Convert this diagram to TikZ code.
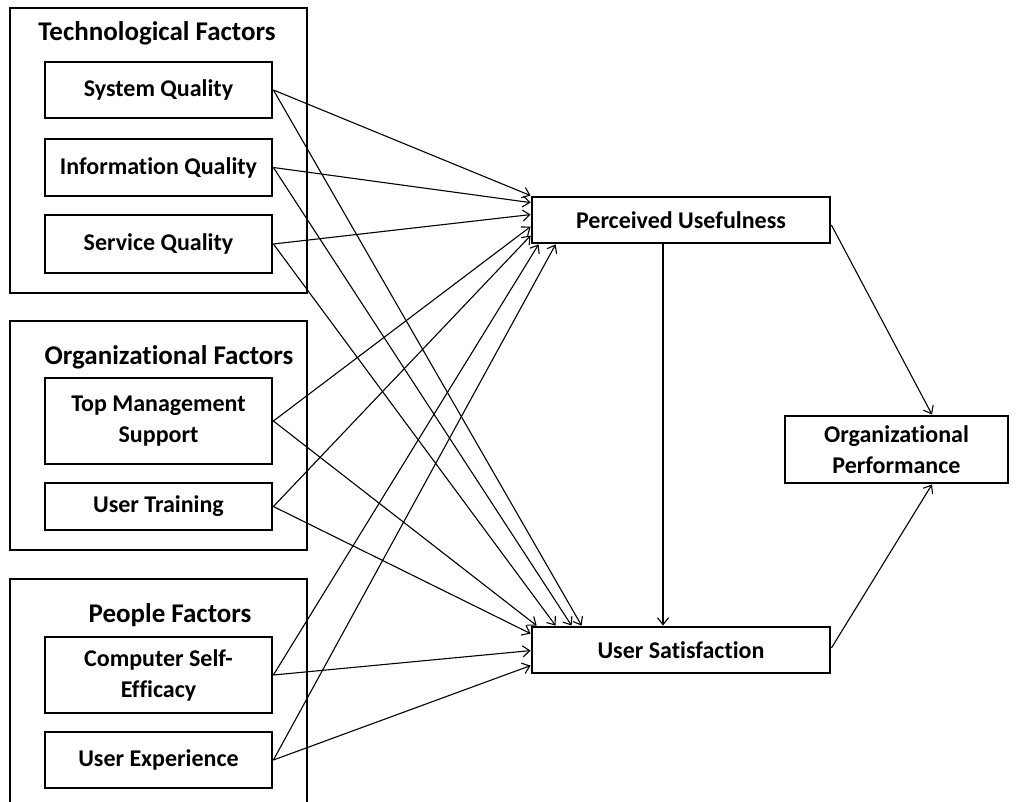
\documentclass[tikz,border=0pt]{standalone}
\usepackage{fontspec}
\setmainfont{Carlito}[Ligatures=NoCommon]
\usetikzlibrary{arrows.meta}
\begin{document}
\begin{tikzpicture}[x=1pt,y=-1pt,
  box/.style={draw,line width=2.8pt,minimum width=227pt,align=center,font=\fontsize{24}{31}\selectfont\bfseries,inner sep=0pt},
  bigbox/.style={draw,line width=2.8pt,align=center,font=\fontsize{24}{31}\selectfont\bfseries,inner sep=0pt},
  grp/.style={draw,line width=2.8pt},
  ttl/.style={font=\fontsize{27}{32}\selectfont\bfseries,inner sep=0pt},
  arr/.style={line width=1.1pt,-{Straight Barb[length=7pt,width=11pt,line width=1.1pt]}}]
\useasboundingbox (0,0) rectangle (1019,802);
% group boxes
\draw[grp] (10,8) rectangle (307,293);
\draw[grp] (10,321) rectangle (307,550);
\draw[grp] (10,805) -- (10,579) -- (307,579) -- (307,805);
\node[ttl] (ttech) at (157,33) {Technological Factors};
\node[ttl] (torg) at (169,357) {Organizational Factors};
\node[ttl] (tppl) at (170,615) {People Factors};
% inner boxes
\node[box,minimum height=56pt] (sq) at (158.5,90) {System Quality};
\node[box,minimum height=57pt] (iq) at (158.5,167.5) {Information Quality};
\node[box,minimum height=58pt] (svq) at (158.5,244) {Service Quality};
\node[box,minimum height=86pt] (tms) at (158.5,421) {Top Management\\Support};
\node[box,minimum height=47pt] (ut) at (158.5,506.5) {User Training};
\node[box,minimum height=76pt] (cse) at (158.5,675) {Computer Self-\\Efficacy};
\node[box,minimum height=56pt] (ue) at (158.5,760) {User Experience};
% right boxes
\node[bigbox,minimum width=298pt,minimum height=46pt] (pu) at (681,220) {Perceived Usefulness};
\node[bigbox,minimum width=298pt,minimum height=46pt] (us) at (681,650) {User Satisfaction};
\node[bigbox,minimum width=223pt,minimum height=67pt] (op) at (896.5,449.5) {Organizational\\Performance};
% arrows to PU
\draw[arr] (sq.east) -- (pu.north west);
\draw[arr] (iq.east) -- ([yshift=-7pt]pu.north west);
\draw[arr] (svq.east) -- ([yshift=-19pt]pu.north west);
\draw[arr] (tms.east) -- ([yshift=-31pt]pu.north west);
\draw[arr] (ut.east) -- ([yshift=-40pt]pu.north west);
\draw[arr] (cse.east) -- ([xshift=8pt]pu.south west);
\draw[arr] (ue.east) -- ([xshift=25pt]pu.south west);
% arrows to US
\draw[arr] (sq.east) -- ([xshift=51pt]us.north west);
\draw[arr] (iq.east) -- ([xshift=41pt]us.north west);
\draw[arr] (svq.east) -- ([xshift=25pt]us.north west);
\draw[arr] (tms.east) -- ([xshift=6pt]us.north west);
\draw[arr] (ut.east) -- ([yshift=-8pt]us.north west);
\draw[arr] (cse.east) -- ([yshift=-25pt]us.north west);
\draw[arr] (ue.east) -- ([yshift=-40pt]us.north west);
% other arrows
\draw[arr] ([xshift=-18pt]pu.south) -- ([xshift=-18pt]us.north);
\draw[arr] ([yshift=-5pt]pu.east) -- ([xshift=35.5pt]op.north);
\draw[arr] ([yshift=2pt]us.east) -- ([xshift=35.5pt]op.south);
\end{tikzpicture}
\end{document}
